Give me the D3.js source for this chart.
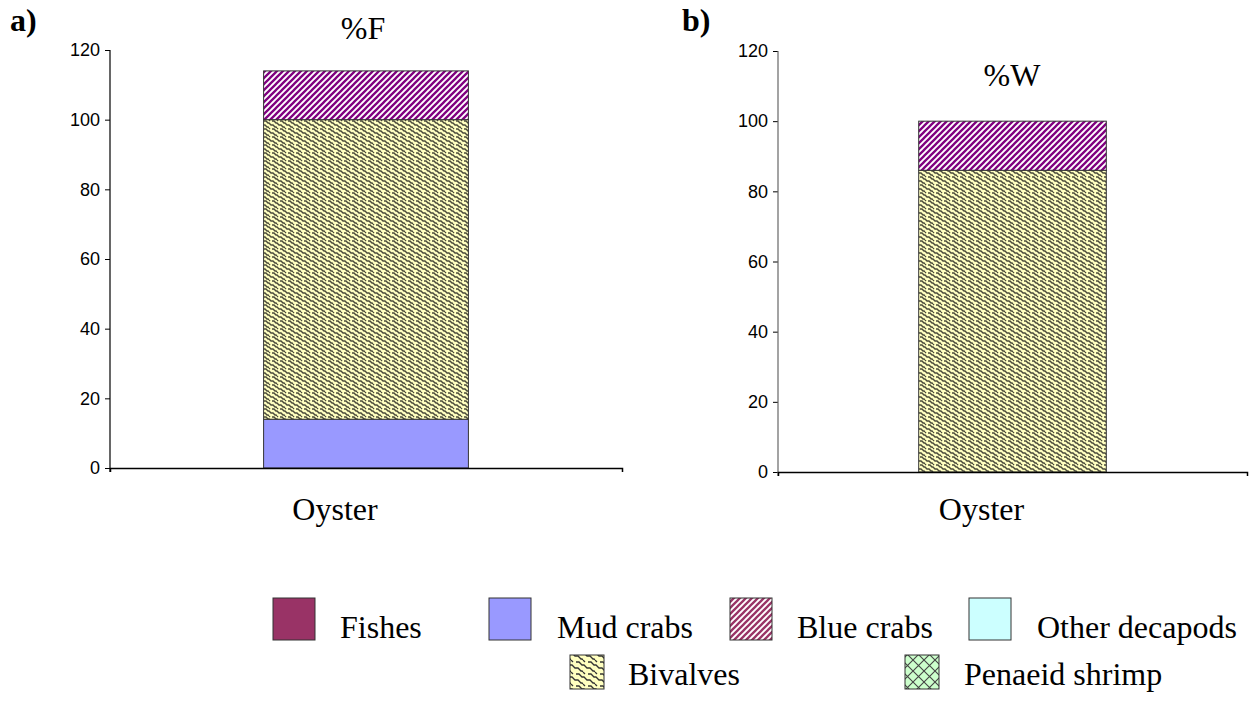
<!DOCTYPE html>
<html>
<head>
<meta charset="utf-8">
<script src="https://cdn.jsdelivr.net/npm/d3@7"></script>
<style>
  html, body { margin: 0; padding: 0; background: #fff; }
  svg { display: block; }
</style>
</head>
<body>
<svg id="chart" width="1256" height="721"></svg>
<script>
// ---------------- data ----------------
const categories = ["Oyster"];
const seriesNames = ["Fishes", "Mud crabs", "Blue crabs", "Other decapods", "Bivalves", "Penaeid shrimp"];
const stackOrder = ["Fishes", "Mud crabs", "Bivalves", "Blue crabs", "Other decapods", "Penaeid shrimp"];
const valuesF = [0, 14, 14, 0, 86, 0];   // %F, in seriesNames order
const valuesW = [0, 0, 14, 0, 86, 0];    // %W, in seriesNames order
const yTicks = [0, 20, 40, 60, 80, 100, 120];
const panelLabels = ["a)", "b)"];
const panelTitles = ["%F", "%W"];

const SERIF = "'Liberation Serif', 'Times New Roman', serif";
const SANS = "'Liberation Sans', Arial, sans-serif";

// ---------------- setup ----------------
const svg = d3.select("#chart");
const defs = svg.append("defs");

function stripes(id, color) {
  const p = defs.append("pattern").attr("id", id).attr("patternUnits", "userSpaceOnUse")
    .attr("width", 6).attr("height", 6);
  p.append("rect").attr("width", 6).attr("height", 6).attr("fill", "#fff");
  p.append("path").attr("d", "M-1.5,1.5 L1.5,-1.5 M0,6 L6,0 M4.5,7.5 L7.5,4.5")
    .attr("stroke", color).attr("stroke-width", 2.3);
}
stripes("blueCrabs", "#800080");
stripes("blueCrabsLegend", "#993366");

const biv = defs.append("pattern").attr("id", "bivalves").attr("patternUnits", "userSpaceOnUse")
  .attr("width", 8).attr("height", 8);
biv.append("rect").attr("width", 8).attr("height", 8).attr("fill", "#FFFFC0");
biv.append("path").attr("d", "M0,1 L2,1 L4,3 L5,3 L7,5 L8,5 M0,5 L1,5 L3,7 L4,7 L5,8 M5,0 L6,1")
  .attr("stroke", "#4a4a3a").attr("stroke-width", 1.4).attr("fill", "none");

const bivL = defs.append("pattern").attr("id", "bivalvesLegend").attr("patternUnits", "userSpaceOnUse")
  .attr("width", 12).attr("height", 12);
bivL.append("rect").attr("width", 12).attr("height", 12).attr("fill", "#FFFFC0");
bivL.append("path").attr("d", "M0,2 L3,2 L6,5 L8,5 L11,8 L12,8 M0,8 L2,8 L5,11 L6,11 L7,12 M7,0 L9,2")
  .attr("stroke", "#333").attr("stroke-width", 1.3).attr("fill", "none");

const pen = defs.append("pattern").attr("id", "penaeid").attr("patternUnits", "userSpaceOnUse")
  .attr("width", 11).attr("height", 11);
pen.append("rect").attr("width", 11).attr("height", 11).attr("fill", "#CCFFCC");
pen.append("path").attr("d", "M0,0 L11,11 M11,0 L0,11")
  .attr("stroke", "#444").attr("stroke-width", 1.1).attr("fill", "none");

const fills = {
  "Fishes": "#993366",
  "Mud crabs": "#9999FF",
  "Blue crabs": "url(#blueCrabs)",
  "Other decapods": "#CCFFFF",
  "Bivalves": "url(#bivalves)",
  "Penaeid shrimp": "url(#penaeid)"
};
const legendFills = Object.assign({}, fills, {
  "Blue crabs": "url(#blueCrabsLegend)",
  "Bivalves": "url(#bivalvesLegend)"
});

const panels = [
  { values: valuesF, x0: 110, x1: 622, yBottom: 468, yTop: 50, axisColor: "#000", labelPad: 29,
    label: panelLabels[0], labelX: 10, title: panelTitles[0], titleX: 363, titleY: 39 },
  { values: valuesW, x0: 778, x1: 1247, yBottom: 472, yTop: 51, axisColor: "#666", labelPad: 25,
    label: panelLabels[1], labelX: 682, title: panelTitles[1], titleX: 1012, titleY: 86 }
];

panels.forEach(p => {
  const g = svg.append("g");
  const x = d3.scaleBand().domain(categories).range([p.x0, p.x1]).paddingInner(0.6).paddingOuter(0.3);
  const y = d3.scaleLinear().domain([0, 120]).range([p.yBottom, p.yTop]);

  const row = { category: categories[0] };
  seriesNames.forEach((s, i) => row[s] = p.values[i]);
  const stacked = d3.stack().keys(stackOrder)([row]);

  stacked.forEach(layer => {
    layer.filter(d => d[1] - d[0] > 0).forEach(d => {
      g.append("rect")
        .attr("x", x(d.data.category))
        .attr("width", x.bandwidth())
        .attr("y", y(d[1]))
        .attr("height", y(d[0]) - y(d[1]))
        .attr("fill", fills[layer.key])
        .attr("stroke", "#333")
        .attr("stroke-width", 1);
    });
  });

  // y axis
  const ya = g.append("g").attr("transform", `translate(${p.x0},0)`)
    .call(d3.axisLeft(y).tickValues(yTicks).tickSize(5).tickSizeOuter(0).tickPadding(5));
  ya.select(".domain").remove();
  ya.append("line").attr("x1", 0).attr("x2", 0).attr("y1", y(120)).attr("y2", y(0) + 4)
    .attr("stroke", p.axisColor).attr("stroke-width", 1.2);
  ya.selectAll(".tick line").attr("stroke", "#000");
  ya.selectAll(".tick text").attr("fill", "#000")
    .style("font-family", SANS).style("font-size", "18px");

  // x axis
  const xa = g.append("g").attr("transform", `translate(0,${p.yBottom})`)
    .call(d3.axisBottom(x).tickSize(0).tickSizeOuter(4).tickPadding(p.labelPad));
  xa.select(".domain").attr("stroke", "#000").attr("stroke-width", 1.5);
  xa.selectAll(".tick text").attr("fill", "#000").attr("dx", -31)
    .style("font-family", SERIF).style("font-size", "32px");

  svg.append("text").attr("x", p.labelX).attr("y", 31).text(p.label)
    .style("font-family", SERIF).style("font-size", "32px").style("font-weight", "bold");
  svg.append("text").attr("x", p.titleX).attr("y", p.titleY).text(p.title)
    .attr("text-anchor", "middle")
    .style("font-family", SERIF).style("font-size", "32px");
});

// ---------------- legend ----------------
const legendPos = {
  "Fishes": { sx: 273, sy: 598, s: 42, tx: 340, ty: 638 },
  "Mud crabs": { sx: 489, sy: 598, s: 42, tx: 557, ty: 638 },
  "Blue crabs": { sx: 730, sy: 598, s: 42, tx: 797, ty: 638 },
  "Other decapods": { sx: 969, sy: 598, s: 42, tx: 1037, ty: 638 },
  "Bivalves": { sx: 570, sy: 655, s: 34, tx: 628, ty: 685 },
  "Penaeid shrimp": { sx: 905, sy: 655, s: 34, tx: 964, ty: 685 }
};
const lg = svg.append("g");
seriesNames.forEach(s => {
  const L = legendPos[s];
  lg.append("rect").attr("x", L.sx).attr("y", L.sy).attr("width", L.s).attr("height", L.s)
    .attr("fill", legendFills[s]).attr("stroke", "#333").attr("stroke-width", 1);
  lg.append("text").attr("x", L.tx).attr("y", L.ty).text(s)
    .style("font-family", SERIF).style("font-size", "32px");
});
</script>
</body>
</html>
